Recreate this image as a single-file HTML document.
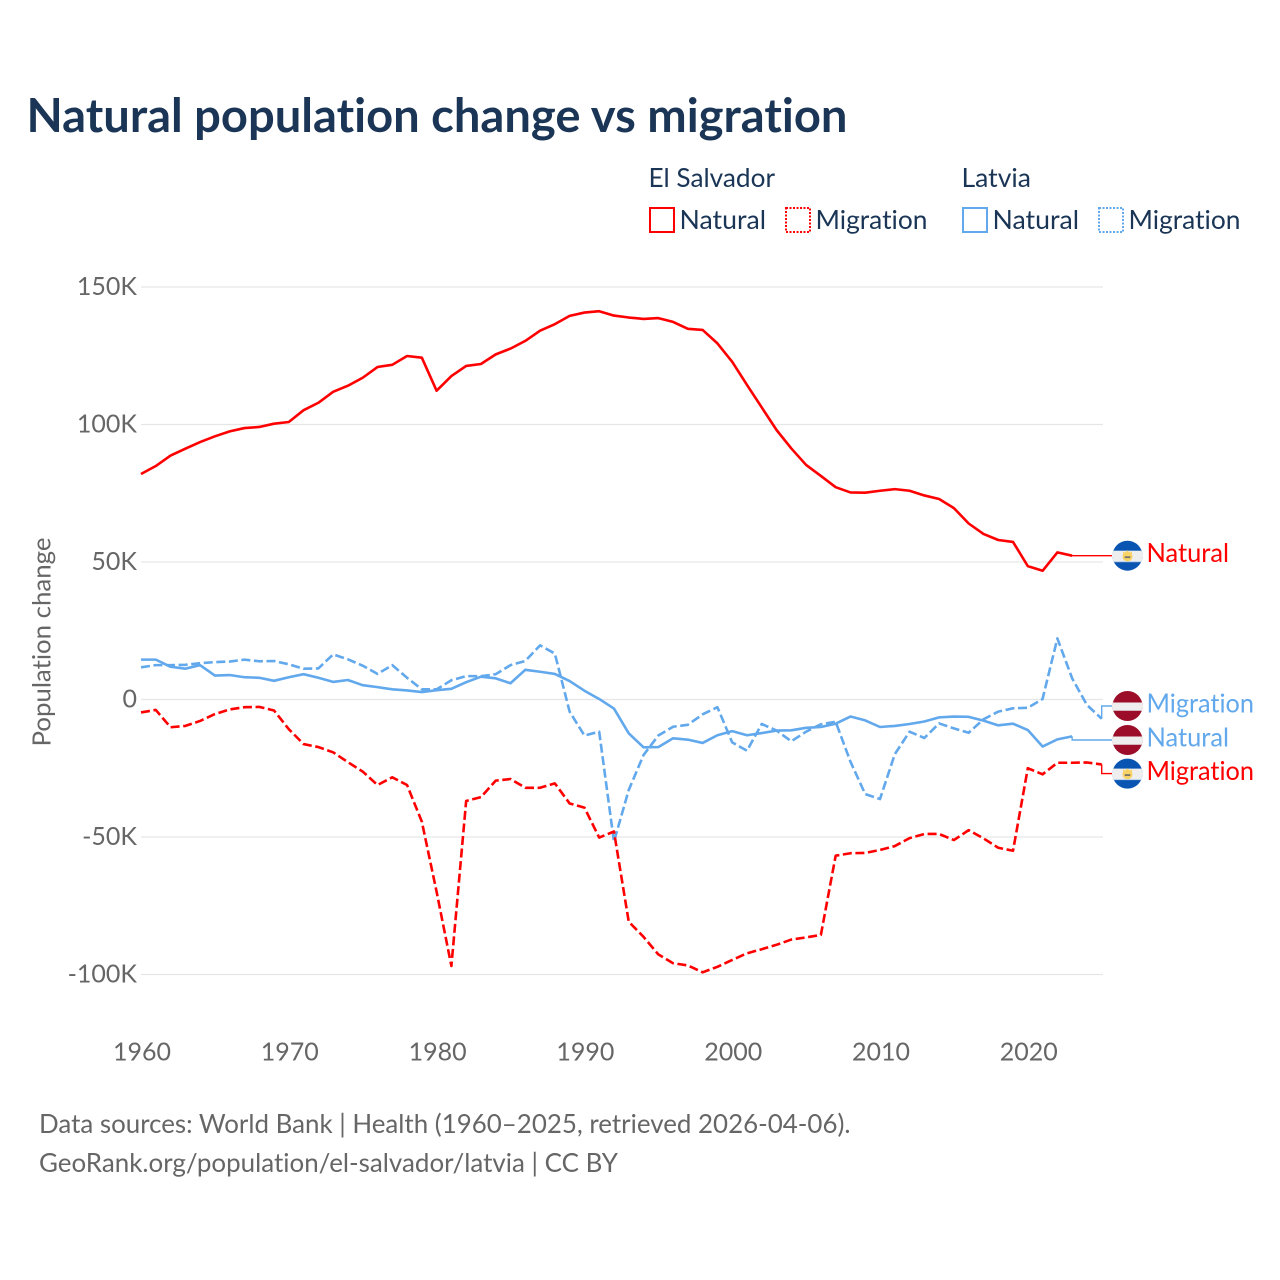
<!DOCTYPE html>
<html lang="en">
<head>
<meta charset="utf-8">
<title>Natural population change vs migration</title>
<style>
html,body{margin:0;padding:0;background:#fff;}
svg{display:block;font-family:"Lato","Carlito","Liberation Sans",sans-serif;font-variant-ligatures:none;}
</style>
</head>
<body>
<svg id="chart" xmlns="http://www.w3.org/2000/svg" width="1280" height="1280" viewBox="0 0 1280 1280">
  <defs>
    <clipPath id="flag-clip"><circle cx="0" cy="0" r="15"/></clipPath>
    <g id="flag-sv">
      <g clip-path="url(#flag-clip)">
        <rect x="-16" y="-16" width="32" height="32" fill="#0a55b2"/>
        <rect x="-16" y="-5" width="32" height="11" fill="#eeeeee"/>
        <rect x="-16" y="5.5" width="32" height="1" fill="#b9cfe8"/>
        <circle cx="0" cy="0.8" r="5" fill="#f8d468"/>
        <path d="M-4.5 0 L-4.5 -4.6 L-2.6 -2.6 L0 -5.4 L2.6 -2.6 L4.5 -4.6 L4.5 0 Z" fill="#f8d468"/>
        <rect x="-2.8" y="0.6" width="5.6" height="1.8" fill="#77756a"/>
      </g>
    </g>
    <g id="flag-lv">
      <g clip-path="url(#flag-clip)">
        <rect x="-16" y="-16" width="32" height="32" fill="#9b0d28"/>
        <rect x="-16" y="-3.5" width="32" height="8" fill="#eeeeee"/>
        <rect x="-16" y="4" width="32" height="1" fill="#d4b5bc"/>
      </g>
    </g>
  </defs>

  <text x="26.5" y="132" font-size="47" font-weight="700" fill="#1a3555" textLength="821" lengthAdjust="spacingAndGlyphs">Natural population change vs migration</text>

  <g font-size="26" fill="#1a3555">
    <text x="648.5" y="187" textLength="126.5" lengthAdjust="spacingAndGlyphs">El Salvador</text>
    <text x="961.5" y="187" textLength="69.5" lengthAdjust="spacingAndGlyphs">Latvia</text>
    <g>
      <rect x="650" y="208" width="24" height="24" fill="none" stroke="#ff0000" stroke-width="2"/>
      <text x="679.5" y="229" textLength="86.5" lengthAdjust="spacingAndGlyphs">Natural</text>
    </g>
    <g>
      <rect x="786" y="208" width="24" height="24" fill="none" stroke="#ff0000" stroke-width="2" stroke-dasharray="2,1.5"/>
      <text x="815.5" y="229" textLength="112" lengthAdjust="spacingAndGlyphs">Migration</text>
    </g>
    <g>
      <rect x="963" y="208" width="24" height="24" fill="none" stroke="#62a8ec" stroke-width="2"/>
      <text x="992.5" y="229" textLength="86.5" lengthAdjust="spacingAndGlyphs">Natural</text>
    </g>
    <g>
      <rect x="1099" y="208" width="24" height="24" fill="none" stroke="#62a8ec" stroke-width="2" stroke-dasharray="2,1.5"/>
      <text x="1128.5" y="229" textLength="112" lengthAdjust="spacingAndGlyphs">Migration</text>
    </g>
  </g>

  <g id="grid"></g>
  <g id="y-ticks"></g>
  <g id="x-ticks"></g>
  <text transform="translate(50.5,642) rotate(-90)" text-anchor="middle" font-size="25" fill="#666666" textLength="209" lengthAdjust="spacingAndGlyphs">Population change</text>
  <g id="series"></g>
  <g id="end-labels"></g>

  <g font-size="26" fill="#666666">
    <text x="39" y="1133" textLength="811.5" lengthAdjust="spacingAndGlyphs">Data sources: World Bank | Health (1960–2025, retrieved 2026-04-06).</text>
    <text x="39" y="1172" textLength="579" lengthAdjust="spacingAndGlyphs">GeoRank.org/population/el-salvador/latvia | CC BY</text>
  </g>
</svg>

<script>
const startYear = 1960;
const xTickYears = [1960, 1970, 1980, 1990, 2000, 2010, 2020];
const yTickValues = [150, 100, 50, 0, -50, -100];
const yTickLabels = ["150K", "100K", "50K", "0", "-50K", "-100K"];

// Values in thousands, one per year from 1960
const elSalvadorNatural = [82, 84.9, 88.7, 91.2, 93.6, 95.7, 97.5, 98.7, 99.1, 100.3,
  100.9, 105.2, 107.9, 111.9, 114.1, 117, 120.9, 121.7, 124.9, 124.3,
  112.3, 117.6, 121.3, 122, 125.5, 127.6, 130.4, 134.1, 136.5, 139.5,
  140.7, 141.2, 139.6, 138.9, 138.4, 138.7, 137.3, 134.8, 134.4, 129.5,
  122.8, 114.4, 106.2, 98, 91.3, 85.3, 81.3, 77.2, 75.3, 75.2,
  75.9, 76.5, 75.9, 74.2, 72.9, 69.6, 64, 60.2, 58, 57.3,
  48.5, 46.8, 53.5, 52.3];
const elSalvadorMigration = [-4.7, -3.8, -10.1, -9.6, -7.8, -5.3, -3.6, -2.8, -2.7, -4,
  -10.8, -16.2, -17.3, -19.2, -22.8, -26.2, -31.1, -28.3, -31.1, -44.4,
  -69.9, -96.9, -36.9, -35.5, -29.5, -28.9, -32.1, -32.1, -30.5, -37.8,
  -39.3, -50.2, -48, -80.8, -86.3, -92.7, -95.9, -96.7, -99.2, -97.2,
  -94.7, -92.3, -90.8, -89.2, -87.3, -86.5, -85.6, -56.8, -55.9, -55.8,
  -54.7, -53.3, -50.4, -48.9, -48.9, -51.1, -47.5, -50.5, -53.9, -55,
  -25, -27.2, -23, -23, -22.9, -23.6];
const latviaNatural = [14.5, 14.5, 11.9, 11.2, 12.5, 8.7, 8.9, 8.1, 7.9, 6.8,
  8.1, 9.2, 7.9, 6.4, 7.1, 5.2, 4.5, 3.7, 3.3, 2.7,
  3.4, 3.9, 6.3, 8.3, 7.7, 5.9, 10.8, 10.1, 9.3, 6.7,
  3.2, 0.2, -3.3, -12.3, -17.4, -17.3, -14.1, -14.6, -15.8, -13,
  -11.5, -13, -12.2, -11.3, -11.2, -10.3, -10, -8.8, -6.2, -7.6,
  -10, -9.6, -8.9, -8, -6.5, -6.2, -6.3, -7.7, -9.4, -8.8,
  -11.1, -17.1, -14.5, -13.4];
const latviaMigration = [11.7, 12.5, 12.5, 12.6, 13.2, 13.6, 13.8, 14.5, 13.9, 14,
  12.8, 11.2, 11.3, 16.4, 14.6, 12.3, 9.3, 12.5, 7.9, 3.7,
  3.7, 7, 8.5, 8.5, 9.2, 12.5, 14, 19.7, 16.7, -4.4,
  -13.1, -11.7, -51.7, -32.9, -20.2, -13.1, -9.9, -9.2, -5.4, -2.8,
  -15.6, -18.6, -8.9, -11.3, -15.2, -11.7, -9, -8.1, -22.6, -34.4,
  -36.2, -19.9, -11.7, -14, -8.7, -10.5, -12.1, -7.2, -4.4, -3.2,
  -3, 0.2, 22.2, 7.7, -2, -7];

const RED = "#ff0000";
const BLUE = "#62a8ec";
const SVG_NS = "http://www.w3.org/2000/svg";

function xScale(year) { return 141 + (year - 1960) * 14.78; }
function yScale(v) { return 699.5 - v * 2.75; }

const grid = document.getElementById("grid");
const yTicks = document.getElementById("y-ticks");
const xTicks = document.getElementById("x-ticks");
const seriesGroup = document.getElementById("series");
const endLabels = document.getElementById("end-labels");

yTickValues.forEach(function (v, i) {
  const line = document.createElementNS(SVG_NS, "line");
  
  
  line.setAttribute("x1", 141);
  line.setAttribute("x2", 1103);
  line.setAttribute("y1", yScale(v));
  line.setAttribute("y2", yScale(v));
  line.setAttribute("stroke", "#e6e6e6");
  line.setAttribute("stroke-width", 1.3);
  grid.appendChild(line);

  const t = document.createElementNS(SVG_NS, "text");
  
  
  t.setAttribute("x", 137);
  t.setAttribute("y", yScale(v) + 8);
  t.setAttribute("text-anchor", "end");
  t.setAttribute("font-size", 25);
  t.setAttribute("fill", "#666666");
  t.textContent = yTickLabels[i];
  yTicks.appendChild(t);
});

xTickYears.forEach(function (yr) {
  const t = document.createElementNS(SVG_NS, "text");
  
  
  t.setAttribute("x", xScale(yr) + 1);
  t.setAttribute("y", 1060.5);
  t.setAttribute("text-anchor", "middle");
  t.setAttribute("font-size", 25);
  t.setAttribute("fill", "#666666");
  t.textContent = String(yr);
  xTicks.appendChild(t);
});

function linePath(values) {
  return values.map(function (v, i) {
    return (i ? "L" : "M") + xScale(startYear + i).toFixed(2) + " " + yScale(v).toFixed(2);
  }).join(" ");
}

function drawSeries(values, color, dashed, name, flag, labelText, labelY, labelWidth) {
  const path = document.createElementNS(SVG_NS, "path");
  
  
  path.setAttribute("d", linePath(values));
  path.setAttribute("fill", "none");
  path.setAttribute("stroke", color);
  path.setAttribute("stroke-width", 2.6);
  path.setAttribute("stroke-linejoin", "round");
  if (dashed) path.setAttribute("stroke-dasharray", "9,3.6");
  seriesGroup.appendChild(path);

  const lastX = xScale(startYear + values.length - 1);
  const lastY = yScale(values[values.length - 1]);
  const conn = document.createElementNS(SVG_NS, "path");
  
  
  conn.setAttribute("d", "M" + lastX + " " + lastY + " L" + lastX + " " + labelY + " L1112 " + labelY);
  conn.setAttribute("fill", "none");
  conn.setAttribute("stroke", color);
  conn.setAttribute("stroke-width", 1.4);
  endLabels.appendChild(conn);

  const use = document.createElementNS(SVG_NS, "use");
  
  
  use.setAttribute("href", flag);
  use.setAttribute("x", 1127.5);
  use.setAttribute("y", labelY);
  endLabels.appendChild(use);

  const t = document.createElementNS(SVG_NS, "text");
  
  
  t.setAttribute("x", 1146.5);
  t.setAttribute("y", labelY + 6.3);
  t.setAttribute("font-size", 26);
  t.setAttribute("fill", color);
  t.setAttribute("textLength", labelWidth);
  t.setAttribute("lengthAdjust", "spacingAndGlyphs");
  t.textContent = labelText;
  endLabels.appendChild(t);
}

drawSeries(latviaMigration, BLUE, true, "latvia-migration", "#flag-lv", "Migration", 706, 107.5);
drawSeries(latviaNatural, BLUE, false, "latvia-natural", "#flag-lv", "Natural", 740, 82.5);
drawSeries(elSalvadorMigration, RED, true, "el-salvador-migration", "#flag-sv", "Migration", 773.6, 107.5);
drawSeries(elSalvadorNatural, RED, false, "el-salvador-natural", "#flag-sv", "Natural", 555.7, 82.5);
</script>
</body>
</html>
